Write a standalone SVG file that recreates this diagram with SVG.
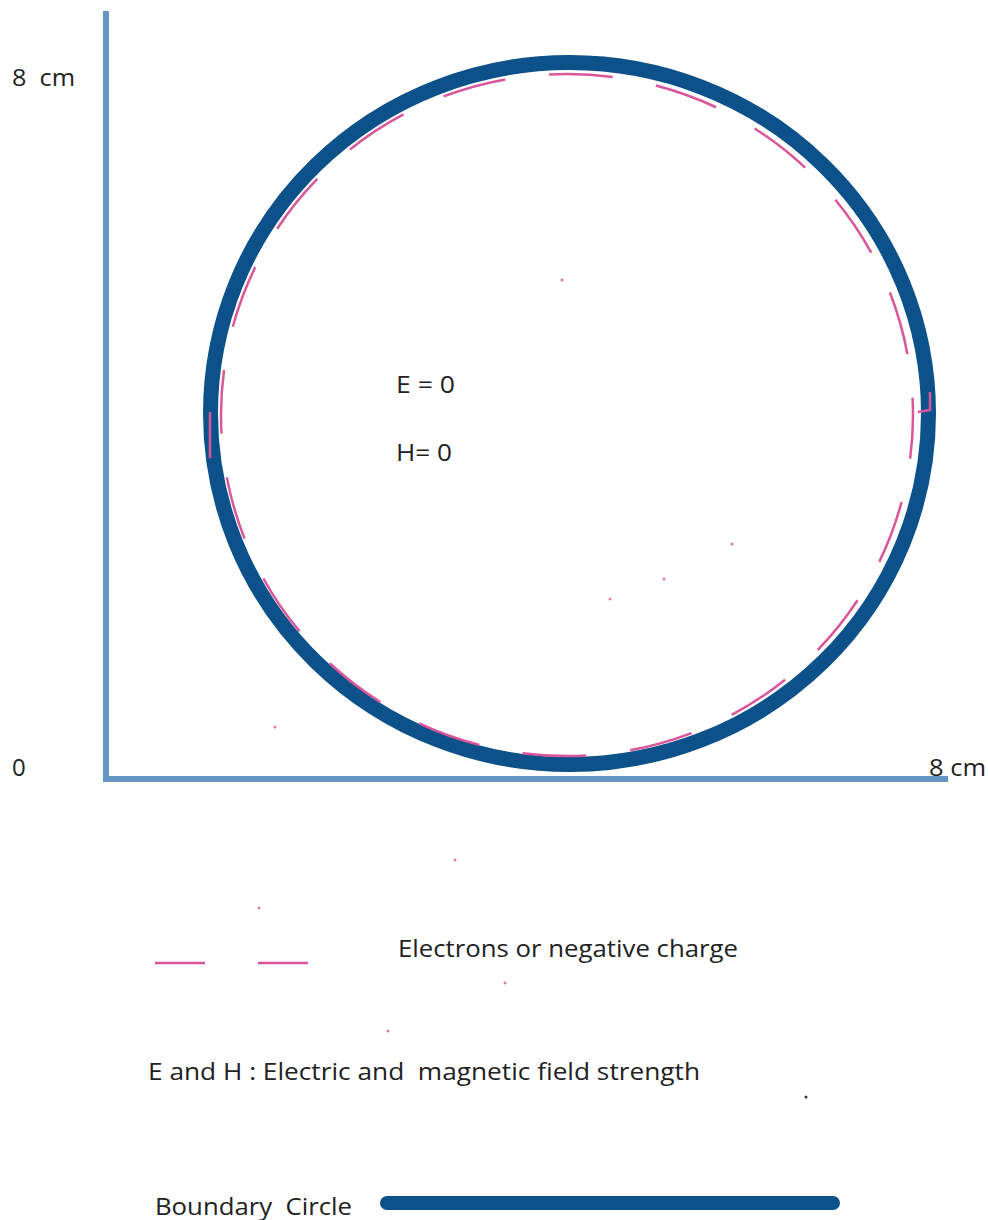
<svg xmlns="http://www.w3.org/2000/svg" width="988" height="1220" viewBox="0 0 988 1220">
<style>
text{font-family:"Open Sans","Noto Sans","Liberation Sans",sans-serif;font-size:24px;fill:#222;white-space:pre}
.axis{stroke:#6396c6;stroke-width:6;fill:none;stroke-linecap:square}
.ring{stroke:#0c5189;stroke-width:15;fill:none}
.charge{stroke:#d9569a;stroke-width:2.5;fill:none}
.speck{fill:#e07aa8}
</style>
<rect width="988" height="1220" fill="#fff"/>
<g id="axes">
<line class="axis" x1="106" y1="14" x2="106" y2="779"/>
<line class="axis" x1="106" y1="779" x2="945" y2="779"/>
<text x="12" y="86" xml:space="preserve" textLength="63" lengthAdjust="spacingAndGlyphs">8  cm</text>
<text x="12" y="776">0</text>
<text x="929" y="776" textLength="57" lengthAdjust="spacingAndGlyphs">8 cm</text>
</g>
<g id="boundary-circle">
<ellipse class="ring" cx="569.5" cy="413.5" rx="359" ry="351"/>
</g>
<g id="electrons">
<ellipse class="charge" cx="567" cy="415" rx="346" ry="341" stroke-dasharray="64 44" stroke-dashoffset="20"/>
<line class="charge" x1="210" y1="412" x2="210" y2="458" stroke="#c9708a"/>
<path class="charge" d="M918 412 L930 410 L930 392"/>
</g>
<g id="field-label">
<text x="396" y="393" textLength="59" lengthAdjust="spacingAndGlyphs">E = 0</text>
<text x="396" y="461" textLength="56" lengthAdjust="spacingAndGlyphs">H= 0</text>
</g>
<g id="specks">
<circle class="speck" cx="562" cy="280" r="1.5"/>
<circle class="speck" cx="732" cy="544" r="1.5"/>
<circle class="speck" cx="664" cy="579" r="1.5"/>
<circle class="speck" cx="610" cy="599" r="1.5"/>
<circle class="speck" cx="275" cy="727" r="1.5"/>
<circle class="speck" cx="455" cy="860" r="1.5"/>
<circle class="speck" cx="259" cy="908" r="1.5"/>
<circle class="speck" cx="505" cy="983" r="1.5"/>
<circle class="speck" cx="388" cy="1031" r="1.5"/>
<circle cx="806" cy="1097" r="1.5" fill="#333"/>
</g>
<g id="legend-electrons">
<line class="charge" x1="155" y1="963" x2="205" y2="963"/>
<line class="charge" x1="258" y1="963" x2="308" y2="963"/>
<text x="398" y="957" textLength="340" lengthAdjust="spacingAndGlyphs">Electrons or negative charge</text>
</g>
<g id="legend-fields">
<text x="148" y="1080" xml:space="preserve" textLength="552" lengthAdjust="spacingAndGlyphs">E and H : Electric and  magnetic field strength</text>
</g>
<g id="legend-boundary">
<text x="155" y="1215" xml:space="preserve" textLength="197" lengthAdjust="spacingAndGlyphs">Boundary  Circle</text>
<line x1="387" y1="1203" x2="833" y2="1203" stroke="#0c5189" stroke-width="14" stroke-linecap="round"/>
</g>
</svg>
